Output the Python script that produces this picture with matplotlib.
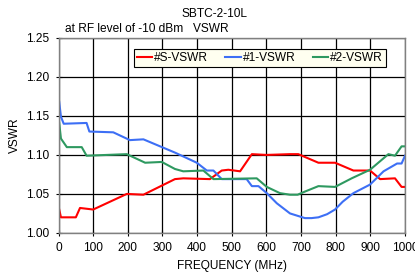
import matplotlib
matplotlib.use("Agg")
import matplotlib.pyplot as plt
from matplotlib.ticker import FormatStrFormatter

plt.rcParams['font.family'] = ['Liberation Sans', 'DejaVu Sans']

# --- data ---
freq_s = [2, 7, 50, 62, 100, 197, 245, 336, 360, 437, 471, 490, 524, 558, 600, 668, 692, 750, 798, 851, 899, 928, 971, 990, 1000]
vswr_s = [1.030, 1.020, 1.020, 1.032, 1.030, 1.050, 1.049, 1.069, 1.070, 1.069, 1.080, 1.081, 1.079, 1.101, 1.100, 1.101, 1.101, 1.090, 1.090, 1.080, 1.080, 1.069, 1.070, 1.059, 1.059]

freq_1 = [2, 7, 15, 81, 89, 158, 206, 245, 336, 399, 428, 447, 471, 543, 558, 577, 601, 630, 668, 711, 730, 750, 775, 798, 820, 851, 899, 938, 977, 990, 1000]
vswr_1 = [1.168, 1.149, 1.140, 1.141, 1.130, 1.129, 1.119, 1.120, 1.103, 1.090, 1.080, 1.080, 1.069, 1.069, 1.060, 1.060, 1.051, 1.038, 1.025, 1.019, 1.019, 1.020, 1.024, 1.030, 1.040, 1.051, 1.062, 1.079, 1.089, 1.089, 1.099]

freq_2 = [2, 7, 24, 67, 81, 197, 250, 298, 336, 360, 418, 447, 572, 601, 639, 668, 690, 711, 750, 798, 846, 899, 952, 971, 990, 1000]
vswr_2 = [1.141, 1.121, 1.110, 1.110, 1.099, 1.101, 1.090, 1.091, 1.082, 1.079, 1.080, 1.069, 1.070, 1.059, 1.051, 1.049, 1.049, 1.053, 1.060, 1.059, 1.070, 1.081, 1.101, 1.099, 1.111, 1.111]

labels = ['#S-VSWR', '#1-VSWR', '#2-VSWR']
colors = ['#FF0000', '#3D6FF5', '#2E9960']

x_ticks = list(range(0, 1001, 100))
y_ticks = [1.00, 1.05, 1.10, 1.15, 1.20, 1.25]

FS = 8.6

fig = plt.figure(figsize=(4.15, 2.75), dpi=100)
ax = fig.add_axes([0.141, 0.153, 0.835, 0.709])

for f, v, lab, c in zip([freq_s, freq_1, freq_2], [vswr_s, vswr_1, vswr_2], labels, colors):
    ax.plot(f, v, color=c, lw=1.5, label=lab)

ax.set_xlim(0, 1000)
ax.set_ylim(1.00, 1.25)
ax.set_xticks(x_ticks)
ax.set_yticks(y_ticks)
ax.yaxis.set_major_formatter(FormatStrFormatter('%.2f'))
ax.grid(True, color='black', lw=0.9)
ax.set_axisbelow(True)
for sp in ax.spines.values():
    sp.set_color('#808080')
    sp.set_linewidth(1.0)
ax.tick_params(direction='inout', length=5, width=0.8, labelsize=FS, color='black', pad=4)

ax.set_xlabel('FREQUENCY (MHz)', fontsize=FS, labelpad=4)
ax.set_ylabel('VSWR', fontsize=FS, labelpad=4)

leg = ax.legend(loc='upper right', ncol=3, fontsize=FS, frameon=True, fancybox=False,
                handlelength=1.3, handletextpad=0.15, columnspacing=1.45,
                borderpad=0.25, bbox_to_anchor=(0.962, 0.975))
leg.get_frame().set_facecolor('#FFFFF0')
leg.get_frame().set_edgecolor('black')
leg.get_frame().set_linewidth(0.8)
leg.get_frame().set_alpha(1)

fig.text(0.516, 0.950, 'SBTC-2-10L', ha='center', va='center', fontsize=FS)
fig.text(0.157, 0.893, 'at RF level of -10 dBm   VSWR', ha='left', va='center', fontsize=FS)

fig.savefig('out.png', dpi=100)
